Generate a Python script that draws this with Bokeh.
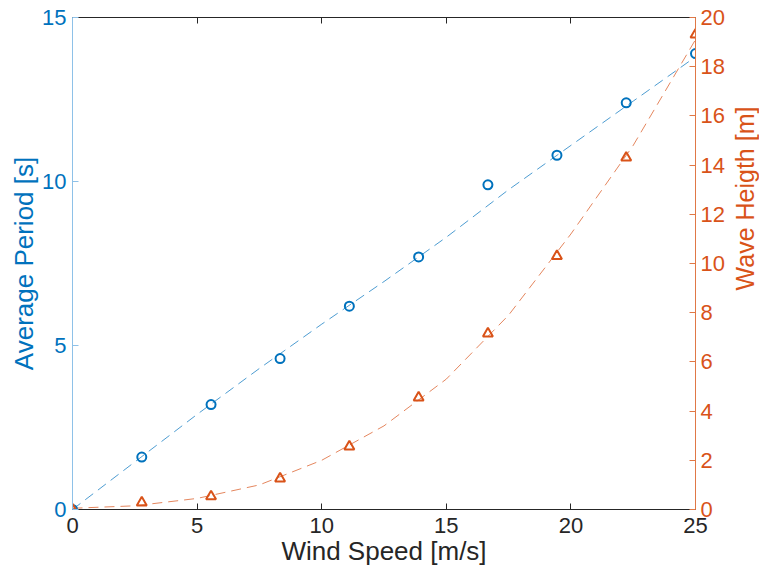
import math
from bokeh.plotting import figure
from bokeh.models import Range1d, LinearAxis, FixedTicker, Label
from bokeh.layouts import row
from bokeh.embed import file_html
from bokeh.resources import INLINE

# Data
wind_speed = [0, 2.78, 5.56, 8.33, 11.11, 13.89, 16.67, 19.44, 22.22, 25.0]
avg_period = [0, 1.6, 3.2, 4.6, 6.2, 7.7, 9.9, 10.8, 12.4, 13.9]
wave_height = [0, 0.28, 0.53, 1.26, 2.56, 4.55, 7.15, 10.3, 14.3, 19.3]

# Dashed fit curves
fit_x = [0, 2.5, 5, 7.5, 10, 12.5, 15, 17.5, 20, 22.5, 25]
fit_period = [0, 1.45, 2.9, 4.3, 5.65, 6.95, 8.3, 9.75, 11.1, 12.45, 13.8]
fit_height = [0.05, 0.15, 0.45, 1.0, 2.0, 3.4, 5.3, 7.9, 11.2, 14.8, 19.1]

x_ticks = [0, 5, 10, 15, 20, 25]
left_ticks = [0, 5, 10, 15]
right_ticks = [0, 2, 4, 6, 8, 10, 12, 14, 16, 18, 20]

BLUE = "#0072BD"
ORANGE = "#D95319"
DARK = "#262626"
FONT = "Liberation Sans"

p = figure(width=727, height=573, x_range=Range1d(0, 25), y_range=Range1d(0, 15),
           output_backend="svg", toolbar_location=None,
           min_border_left=72, min_border_right=32, min_border_top=17, min_border_bottom=64)
p.extra_y_ranges = {"right": Range1d(0, 20)}
p.xgrid.visible = False
p.ygrid.visible = False
p.outline_line_color = None
p.background_fill_color = "white"
p.border_fill_color = "white"

def style(ax, color, line_color, ticks):
    ax.ticker = FixedTicker(ticks=ticks)
    ax.minor_tick_line_color = None
    ax.major_tick_in = 6
    ax.major_tick_out = 0
    ax.major_tick_line_color = line_color
    ax.axis_line_color = line_color
    ax.major_label_text_color = color
    ax.major_label_text_font = FONT
    ax.major_label_text_font_size = "22px"
    ax.axis_label_text_color = color
    ax.axis_label_text_font = FONT
    ax.axis_label_text_font_size = "26px"
    ax.axis_label_text_font_style = "normal"

# bottom axis
xa = p.xaxis[0]
style(xa, DARK, DARK, x_ticks)
xa.axis_label = "Wind Speed [m/s]"
xa.major_label_standoff = 8
xa.axis_label_standoff = 0

# left axis
ya = p.yaxis[0]
style(ya, BLUE, "#8EC1E8", left_ticks)
ya.axis_label = "Average Period [s]"
ya.major_label_standoff = 6
ya.axis_label_standoff = 0

# right axis (ticks and tick labels; its title is drawn in the strip beside)
ra = LinearAxis(y_range_name="right")
style(ra, ORANGE, "#E07846", right_ticks)
ra.major_label_standoff = 5
p.add_layout(ra, "right")

# top axis (frame with ticks only, labels not painted)
ta = LinearAxis()
style(ta, DARK, DARK, x_ticks)
ta.major_label_text_font_size = "6px"
ta.major_label_text_color = None
ta.major_label_standoff = 0
ta.axis_label = None
p.add_layout(ta, "above")

# fits
p.line(fit_x, fit_period, line_color=BLUE, line_alpha=0.7, line_width=1, line_dash="10 6")
p.line(fit_x, fit_height, line_color=ORANGE, line_alpha=0.7, line_width=1, line_dash="10 6",
       y_range_name="right")

# markers
p.scatter(wind_speed, avg_period, marker="circle", size=9, fill_color=None,
          line_color=BLUE, line_width=2)
p.scatter(wind_speed, wave_height, marker="triangle", size=10, fill_color=None,
          line_color=ORANGE, line_width=2, y_range_name="right")

# narrow strip holding the right axis title, reading bottom-to-top
p2 = figure(width=32, height=573, output_backend="svg", toolbar_location=None,
            x_axis_type=None, y_axis_type=None, min_border=0,
            min_border_left=0, min_border_right=0, min_border_top=0, min_border_bottom=0)
p2.outline_line_color = None
p2.background_fill_color = "white"
p2.border_fill_color = "white"
p2.xgrid.visible = False
p2.ygrid.visible = False
p2.add_layout(Label(x=17, y=311, x_units="screen", y_units="screen",
                    text="Wave Heigth [m]", angle=math.pi / 2,
                    text_align="center", text_baseline="middle", text_color=ORANGE,
                    text_font=FONT, text_font_size="25px"))

layout = row(p, p2)
open("out.html", "w").write(file_html(layout, INLINE))
